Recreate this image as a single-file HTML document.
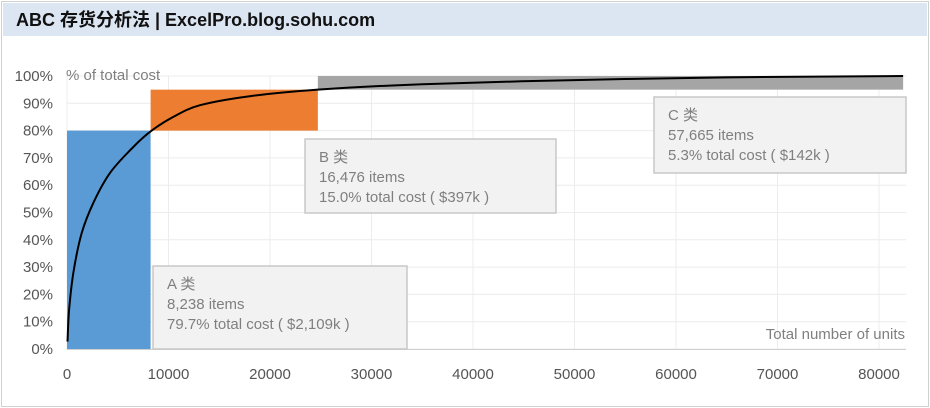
<!DOCTYPE html>
<html><head><meta charset="utf-8"><style>
body{margin:0;background:#fff;font-family:"Liberation Sans","Noto Sans CJK SC",sans-serif;}
#wrap{position:relative;width:930px;height:408px;overflow:hidden;background:#fff}
</style></head><body>
<div id="wrap">
<svg id="chart" width="930" height="408"></svg>
</div>
<script>
const tiers=['A','B','C'];
const tierItems=[8238,16476,57665];
const tierLowPct=[0,80,95];
const tierHighPct=[80,95,100];
const tierLabels=['8,238 items','16,476 items','57,665 items'];
const tierCost=['79.7% total cost ( $2,109k )','15.0% total cost ( $397k )','5.3% total cost ( $142k )'];
const curveUnits=[50,200,620,1450,2590,4240,6530,8340,10470,13100,18000,24700,35000,50000,65000,82379];
const curvePct=[2.7,14,27.8,42.5,53.5,64.5,74,80,85,89.3,92.6,95,97,98.5,99.5,100];
const xTicks=[0,10000,20000,30000,40000,50000,60000,70000,80000];
const yTicks=[0,10,20,30,40,50,60,70,80,90,100];

const NS='http://www.w3.org/2000/svg';
const svg=document.getElementById('chart');
const X=v=>67+v*101.5/10000;
const Y=p=>349-p*2.73;
function el(t,a,txt){const e=document.createElementNS(NS,t);for(const k in a)e.setAttribute(k,a[k]);if(txt!=null)e.textContent=txt;svg.appendChild(e);return e;}

let e;
e=el('rect',{x:1.5,y:1.5,width:927,height:405,fill:'#fff',stroke:'#d0d0d0','stroke-width':1});

e=el('rect',{x:3,y:3,width:924,height:33,fill:'#dce6f2'});

e=el('text',{x:16,y:26,'font-size':18,'font-weight':'bold',fill:'#111'},'ABC 存货分析法 | ExcelPro.blog.sohu.com');


xTicks.forEach(t=>{
 e=el('line',{x1:X(t),x2:X(t),y1:Y(100),y2:Y(0),stroke:'#ececec'});
 
 e=el('text',{x:X(t),y:379,'text-anchor':'middle','font-size':15,fill:'#555'},t);
 
});
yTicks.forEach(t=>{
 e=el('line',{x1:X(0),x2:906,y1:Y(t),y2:Y(t),stroke:'#ececec'});
 
 e=el('text',{x:53,y:Y(t)+5,'text-anchor':'end','font-size':15,fill:'#555'},t+'%');
 
});
e=el('line',{x1:X(0),x2:906,y1:Y(0)+.5,y2:Y(0)+.5,stroke:'#d0d0d0'});


const colors=['#5b9bd5','#ed7d31','#a5a5a5'];
let cum=0;
tiers.forEach((t,i)=>{
 const x0=X(cum);cum+=tierItems[i];const x1=X(cum);
 e=el('rect',{x:x0,y:Y(tierHighPct[i]),width:x1-x0,height:Y(tierLowPct[i])-Y(tierHighPct[i]),fill:colors[i]});
 
});

const pts=curveUnits.map((u,i)=>[X(u),Y(curvePct[i])]);
let d='M'+pts[0][0].toFixed(1)+','+pts[0][1].toFixed(1);
for(let i=0;i<pts.length-1;i++){
 const p0=pts[i-1]||pts[i],p1=pts[i],p2=pts[i+1],p3=pts[i+2]||p2;
 const c1=[p1[0]+(p2[0]-p0[0])/6,p1[1]+(p2[1]-p0[1])/6];
 const c2=[p2[0]-(p3[0]-p1[0])/6,p2[1]-(p3[1]-p1[1])/6];
 d+='C'+c1.map(v=>v.toFixed(1))+' '+c2.map(v=>v.toFixed(1))+' '+p2.map(v=>v.toFixed(1));
}
e=el('path',{d:d,fill:'none',stroke:'#000','stroke-width':2,'stroke-linejoin':'round'});


const boxes=[[153,266,254,83],[305,139,251,74],[654,97,252,76]];
tiers.forEach((t,i)=>{
 const [bx,by,bw,bh]=boxes[i];
 e=el('rect',{x:bx,y:by,width:bw,height:bh,fill:'#f2f2f2',stroke:'#c8c8c8','stroke-width':1.5});
 
 const lines=[t+' 类',tierLabels[i],tierCost[i]];
 lines.forEach((s,j)=>{
  e=el('text',{x:bx+14,y:by+23+j*20,'font-size':15,fill:'#7f7f7f'},s);
  
 });
});
e=el('text',{x:66,y:80,'font-size':15,fill:'#7f7f7f'},'% of total cost');

e=el('text',{x:905,y:339,'text-anchor':'end','font-size':15,fill:'#7f7f7f'},'Total number of units');

</script>
</body></html>
